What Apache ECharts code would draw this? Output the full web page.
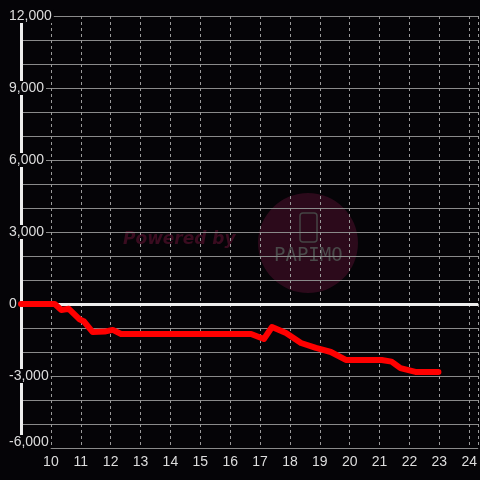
<!DOCTYPE html>
<html>
<head>
<meta charset="utf-8">
<script src="https://cdn.jsdelivr.net/npm/echarts@6/dist/echarts.min.js"></script>
<style>
html,body{margin:0;padding:0;background:#050407;}
#c{width:480px;height:480px;}
</style>
</head>
<body>
<div id="c"></div>
<script>
var hours = [9.0, 10.13, 10.35, 10.6, 10.97, 11.1, 11.4, 11.8, 12.07, 12.35, 16.7, 17.13, 17.4, 17.87, 18.37, 18.87, 19.37, 19.87, 21.07, 21.4, 21.7, 22.2, 22.97];
var values = [0, 0, -250, -200, -650, -720, -1170, -1150, -1080, -1250, -1250, -1460, -960, -1210, -1625, -1830, -2000, -2330, -2330, -2400, -2670, -2830, -2830];
var yTickLabels = [-6000, -3000, 0, 3000, 6000, 9000, 12000];

var bg = '#050407';
var chart = echarts.init(document.getElementById('c'), null, {renderer: 'canvas'});
var data = hours.map(function (h, i) { return [h, values[i]]; });

chart.setOption({
  backgroundColor: bg,
  animation: false,
  grid: {left: 21, right: 0, top: 16, bottom: 32, containLabel: false},
  graphic: [
    {type: 'circle', z: -10, shape: {cx: 308, cy: 243, r: 50}, style: {fill: '#2c0a1b'}},
    {type: 'text', z: -10, left: 123, top: 231, style: {text: 'Powered by', fill: '#3a0c20', font: 'italic bold 17px "DejaVu Sans"'}},
    {type: 'rect', z: -9, shape: {x: 300, y: 213, width: 17, height: 29, r: 3}, style: {fill: 'none', stroke: '#444', lineWidth: 1.5}},
    {type: 'text', z: -9, left: 274, top: 247, style: {text: 'PAPIMO', fill: '#4a4a4a', font: '19px "DejaVu Sans Mono"'}}
  ],
  xAxis: {
    type: 'value', min: 9, max: 24.3, interval: 1,
    axisLine: {show: false}, axisTick: {show: false},
    axisLabel: {
      color: '#dddddd', fontSize: 14, fontFamily: 'Liberation Sans', margin: 7,
      showMaxLabel: false,
      formatter: function (v) { return (v === 9 || v > 24) ? '' : String(v); }
    },
    splitLine: {show: true, lineStyle: {color: '#9a9a9a', type: [3, 3], width: 1}}
  },
  yAxis: {
    type: 'value', min: -6000, max: 12000, interval: 1000,
    axisLine: {show: true, onZero: false, lineStyle: {color: '#eeeeee', width: 3}},
    axisTick: {show: false},
    axisLabel: {
      color: '#dddddd', fontSize: 14, fontFamily: 'Liberation Sans',
      align: 'left', margin: 12, backgroundColor: bg, padding: [0, 2, 0, 0],
      formatter: function (v) {
        if (yTickLabels.indexOf(v) < 0) return '';
        var s = v.toLocaleString('en-US');
        return v === -6000 ? '{low|' + s + '}' : s;
      },
      rich: {
        low: {color: '#dddddd', fontSize: 14, fontFamily: 'Liberation Sans', padding: [0, 0, 12, 0]}
      }
    },
    splitLine: {show: true, lineStyle: {color: '#8a8a8a', width: 1}}
  },
  series: [{
    type: 'line', data: data, showSymbol: false, clip: false,
    lineStyle: {color: '#ff0000', width: 6, cap: 'round', join: 'round'},
    z: 5,
    markLine: {
      silent: true, symbol: 'none', z: 4,
      label: {show: false},
      lineStyle: {color: '#eeeeee', width: 3, type: 'solid'},
      data: [{yAxis: 0}]
    }
  }]
});
</script>
</body>
</html>
